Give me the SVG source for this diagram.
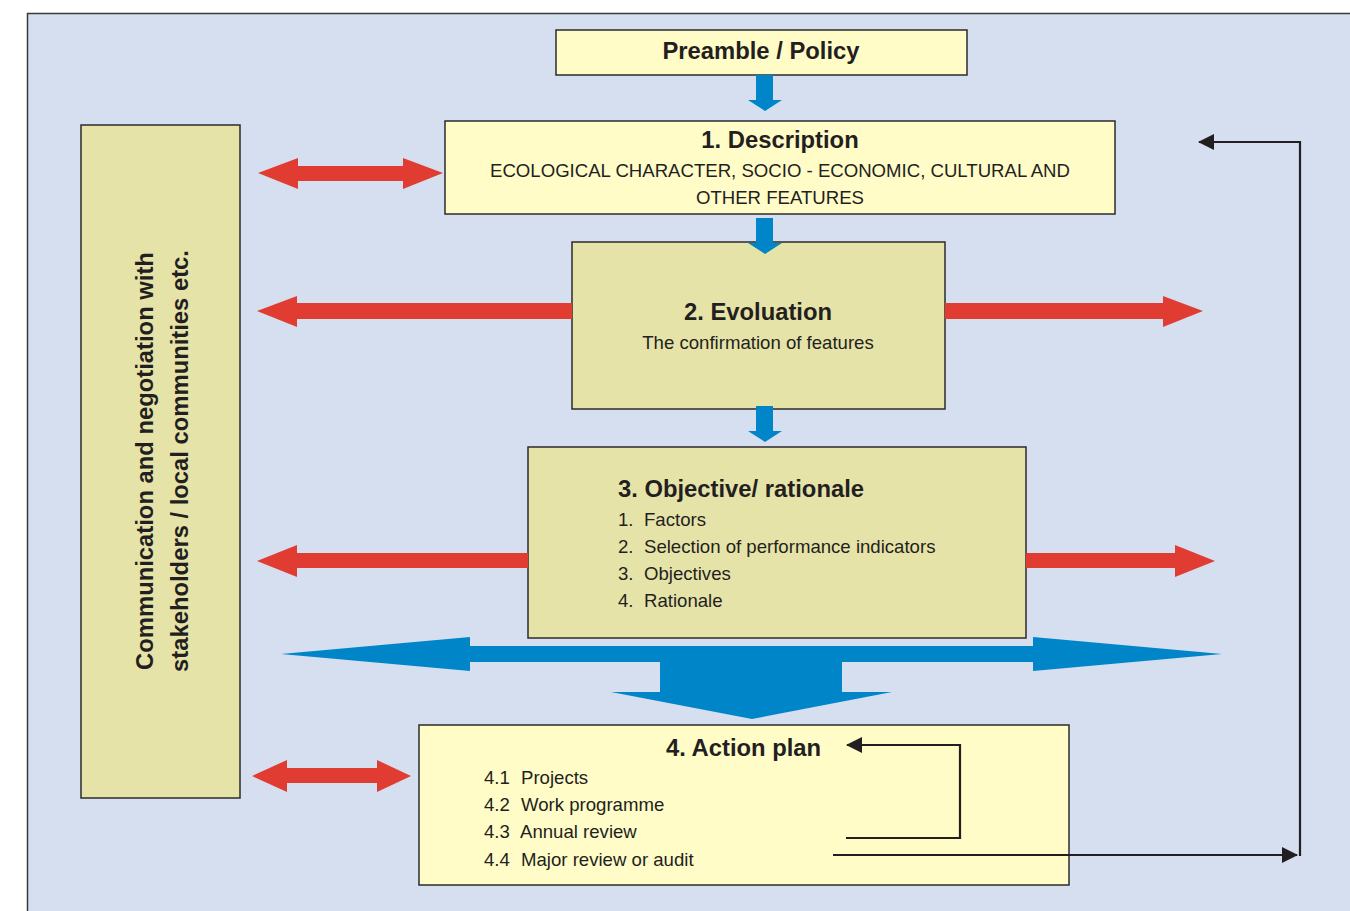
<svg xmlns="http://www.w3.org/2000/svg" width="1350" height="911" viewBox="0 0 1350 911">
<defs>
<style>
.box{stroke:#2b2b2b;stroke-width:1.5}
.y1{fill:#fffcc8}
.y2{fill:#e6e3a8}
.t{font-family:"Liberation Sans",Arial,sans-serif;fill:#231f20}
.b{font-weight:bold;font-size:23.8px}
.s{font-size:18.6px}
.red{fill:#e03c31}
.blue{fill:#0085c8}
.wire{fill:none;stroke:#231f20;stroke-width:2.2}
</style>
<marker id="ah" viewBox="0 0 16 16" refX="15" refY="8" markerWidth="16" markerHeight="16" markerUnits="userSpaceOnUse" orient="auto">
<path d="M0,0 L16,8 L0,16 Z" fill="#231f20"/>
</marker>
</defs>
<rect x="0" y="0" width="1350" height="911" fill="#ffffff"/>
<rect x="27.5" y="13.5" width="1340" height="910" fill="#d6dff0" stroke="#3a3a3a" stroke-width="1.5"/>

<g id="comm">
<rect class="box y2" x="81" y="125" width="159" height="673"/>
<text class="t" font-weight="bold" font-size="23.8" text-anchor="middle" transform="translate(153,461) rotate(-90)">Communication and negotiation with</text>
<text class="t" font-weight="bold" font-size="23.8" text-anchor="middle" transform="translate(188,461) rotate(-90)">stakeholders / local communities etc.</text>
</g>

<g id="preamble">
<rect class="box y1" x="556" y="30" width="411" height="45"/>
<text class="t b" x="761" y="59" text-anchor="middle">Preamble / Policy</text>
</g>

<g id="description">
<rect class="box y1" x="445" y="121" width="670" height="93"/>
<text class="t b" x="780" y="148" text-anchor="middle">1. Description</text>
<text class="t s" x="780" y="177" text-anchor="middle">ECOLOGICAL CHARACTER, SOCIO - ECONOMIC, CULTURAL AND</text>
<text class="t s" x="780" y="204" text-anchor="middle">OTHER FEATURES</text>
</g>

<g id="evaluation">
<rect class="box y2" x="572" y="242" width="373" height="167"/>
<text class="t b" x="758" y="320" text-anchor="middle">2. Evoluation</text>
<text class="t s" x="758" y="349" text-anchor="middle">The confirmation of features</text>
</g>

<g id="objective">
<rect class="box y2" x="528" y="447" width="498" height="191"/>
<text class="t b" x="618" y="497">3. Objective/ rationale</text>
<text class="t s" x="618" y="526">1.</text><text class="t s" x="644" y="526">Factors</text>
<text class="t s" x="618" y="553">2.</text><text class="t s" x="644" y="553">Selection of performance indicators</text>
<text class="t s" x="618" y="580">3.</text><text class="t s" x="644" y="580">Objectives</text>
<text class="t s" x="618" y="607">4.</text><text class="t s" x="644" y="607">Rationale</text>
</g>

<g id="actionplan">
<rect class="box y1" x="419" y="725" width="650" height="160"/>
<text class="t b" x="666" y="756">4. Action plan</text>
<text class="t s" x="484" y="784">4.1</text><text class="t s" x="521" y="784">Projects</text>
<text class="t s" x="484" y="811">4.2</text><text class="t s" x="521" y="811">Work programme</text>
<text class="t s" x="484" y="838">4.3</text><text class="t s" x="520" y="838">Annual review</text>
<text class="t s" x="484" y="866">4.4</text><text class="t s" x="521" y="866">Major review or audit</text>
</g>

<g id="connectors">
<polygon class="blue" points="756,75 773,75 773,100 782,100 765,111 748,100 756,100"/>
<polygon class="blue" points="756,218 773,218 773,243 782,243 765,254 748,243 756,243"/>
<polygon class="blue" points="756,406 773,406 773,431 782,431 765,442 748,431 756,431"/>
<polygon class="blue" points="281,654 470,637 470,646 1033,646 1033,637 1222,654 1033,671 1033,662 842,662 842,692 892,692 752,719 611,692 660,692 660,662 470,662 470,671"/>
<polygon class="red" points="258,173 298,158 298,166 403,166 403,158 443,173 403,189 403,181 298,181 298,189"/>
<polygon class="red" points="257,311 297,296 297,303 572,303 572,319 297,319 297,327"/>
<polygon class="red" points="945,303 1163,303 1163,296 1203,311 1163,327 1163,319 945,319"/>
<polygon class="red" points="257,561 297,545 297,553 528,553 528,568 297,568 297,577"/>
<polygon class="red" points="1026,553 1175,553 1175,545 1215,561 1175,577 1175,568 1026,568"/>
<polygon class="red" points="252,776 287,760 287,768 377,768 377,760 411,776 377,792 377,783 287,783 287,792"/>
<polyline class="wire" points="846,838 960,838 960,745 847,745" marker-end="url(#ah)"/>
<polyline class="wire" points="833,855 1297,855" marker-end="url(#ah)"/>
<polyline class="wire" points="1300,856 1300,142 1199,142" marker-end="url(#ah)"/>
</g>
</svg>
